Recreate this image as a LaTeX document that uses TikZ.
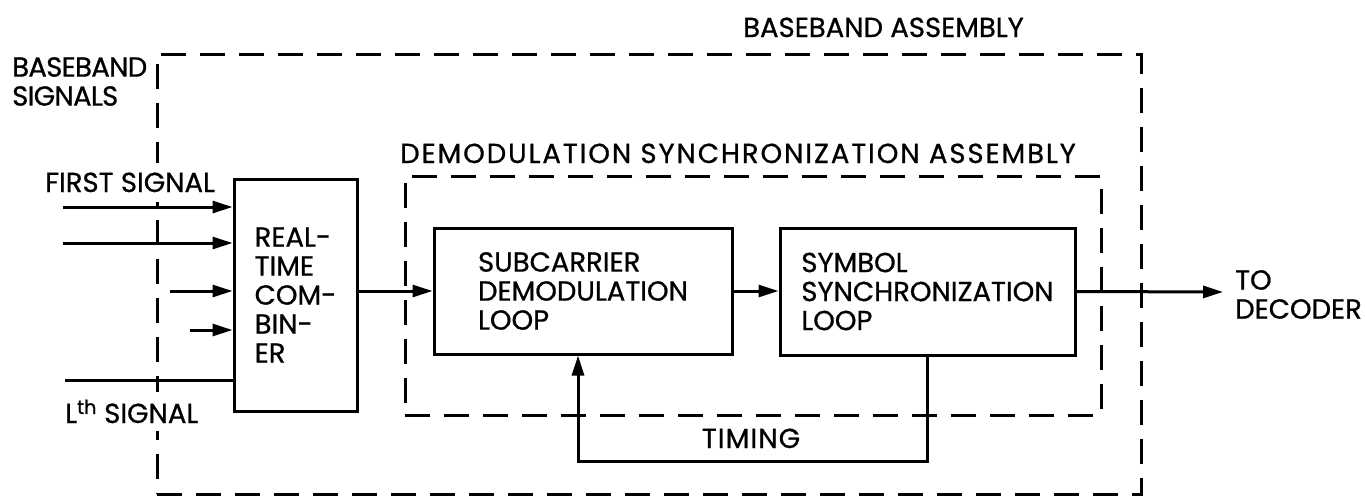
\documentclass[tikz,border=0pt]{standalone}
\usepackage{fontspec}
\setmainfont{Poppins}
\newfontfamily\lett{Poppins}[FakeBold=0.8]
\usetikzlibrary{arrows.meta}
\begin{document}
\begin{tikzpicture}[x=1pt,y=-1pt,
  lbl/.style={font=\lett\fontsize{27.5}{29}\selectfont, inner sep=0pt, align=left},
  blk/.style={draw, line width=3pt, lbl},
  dashbox/.style={draw, line width=3pt, dash pattern=on 25pt off 14pt},
  wire/.style={line width=3pt},
  arr/.style={wire, -{Triangle[length=20pt,width=12pt]}},
]
\useasboundingbox (0,0) rectangle (1365,501);
% dashed assemblies
\node[dashbox, minimum width=984, minimum height=440, inner sep=0pt] (outer) at (649,274) {};
\node[dashbox, minimum width=696, minimum height=239, inner sep=0pt] (inner) at (753,295.5) {};
% blocks
\node[blk, minimum width=123, minimum height=232] (comb) at (295.5,295) {REAL-\\TIME\\COM-\\BIN-\\ER};
\node[blk, minimum width=298, minimum height=126] (sub) at (583,291) {SUBCARRIER\\DEMODULATION\\LOOP};
\node[blk, minimum width=295, minimum height=127] (sym) at (927.5,291.5) {SYMBOL\\SYNCHRONIZATION\\LOOP};
% labels
\node[lbl, anchor=base west] (tba) at (743,37) {BASEBAND ASSEMBLY};
\node[lbl, anchor=north west] (tbs) at (12,57) {\addfontfeatures{LetterSpace=-2.5}BASEBAND\\\addfontfeatures{LetterSpace=-2.5}SIGNALS};
\node[lbl, anchor=base west, fill=white, inner ysep=10pt] (tfs) at (45,192) {FIRST SIGNAL};
\node[lbl, anchor=base west, fill=white, inner ysep=8pt] (tls) at (65,423) {L\textsuperscript{th} SIGNAL};
\node[lbl, anchor=base west] (tdsa) at (400,163) {\addfontfeatures{LetterSpace=7}DEMODULATION SYNCHRONIZATION ASSEMBLY};
\node[lbl, anchor=base] (ttim) at (751,448) {\addfontfeatures{LetterSpace=4}TIMING};
\node[lbl, anchor=north west] (tdec) at (1235,270) {TO\\DECODER};
% inputs
\coordinate (in1) at (63,207);
\coordinate (in2) at (63,243);
\coordinate (in3) at (170,291);
\coordinate (in4) at (190,330);
\coordinate (inL) at (65,380);
\draw[arr] (in1) -- (in1 -| comb.west);
\draw[arr] (in2) -- (in2 -| comb.west);
\draw[arr] (in3) -- (in3 -| comb.west);
\draw[arr] (in4) -- (in4 -| comb.west);
\draw[wire] (inL) -- (inL -| comb.west);
% chain
\draw[arr] (comb.east |- sub.west) -- (sub.west);
\draw[arr] (sub.east) -- (sub.east -| sym.west);
\coordinate (out) at (1223,292);
\draw[arr] (sym.east) -- (out);
% timing loop
\coordinate (tlow) at (0,461);
\draw[arr] (sym.south) -- (sym.south |- tlow) -| ([xshift=-5pt]sub.south);
\end{tikzpicture}
\end{document}
